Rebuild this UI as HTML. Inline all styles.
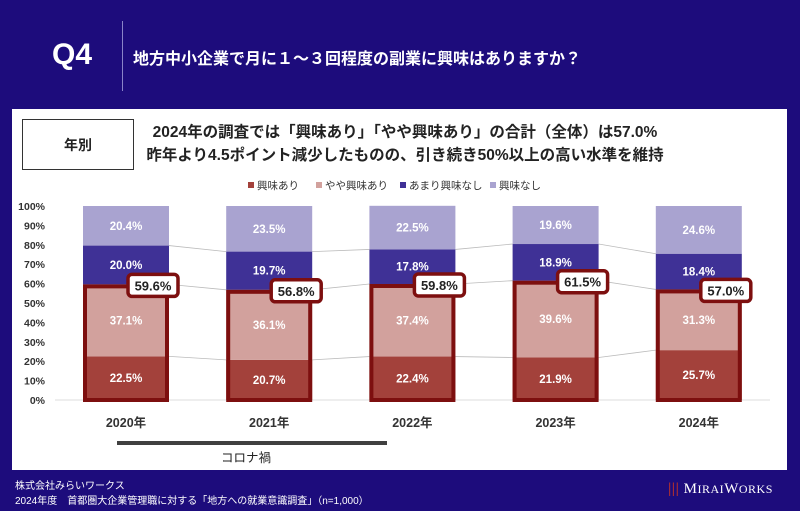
<!DOCTYPE html>
<html><head><meta charset="utf-8"><style>
body{margin:0;width:800px;height:511px;background:#1d0c7c;font-family:"Liberation Sans","Noto Sans CJK JP",sans-serif;overflow:hidden;position:relative}
.a{position:absolute}
</style></head><body>
<div class="a" style="left:52px;top:38px;color:#fff;font-size:30px;font-weight:bold">Q4</div>
<div class="a" style="left:122px;top:21px;width:1px;height:70px;background:#8a84c8"></div>
<div class="a" style="left:133px;top:45px;color:#fff;font-size:16px;font-weight:bold">地方中小企業で月に１～３回程度の副業に興味はありますか？</div>
<div class="a" style="left:12px;top:109px;width:775px;height:361px;background:#fff"></div>
<div class="a" style="left:22px;top:119px;width:110px;height:49px;border:1px solid #333;background:#fff;font-size:14px;font-weight:bold;display:flex;align-items:center;justify-content:center;color:#222">年別</div>
<div class="a" style="left:140px;top:121px;width:530px;text-align:center;font-size:15.5px;font-weight:bold;color:#222;line-height:23px">2024年の調査では「興味あり」「やや興味あり」の合計（全体）は57.0%<br>昨年より4.5ポイント減少したものの、引き続き50%以上の高い水準を維持</div>
<svg class="a" style="left:0;top:0" width="800" height="511" id="chart"></svg>
<div class="a" style="left:15px;top:477px;color:#fff;font-size:10px">株式会社みらいワークス</div>
<div class="a" style="left:15px;top:492px;color:#fff;font-size:10px">2024年度　首都圏大企業管理職に対する「地方への就業意識調査」（n=1,000）</div>
<div class="a" style="left:668px;top:481px;color:#fff;font-size:15px;font-family:'Liberation Serif',serif;letter-spacing:0.5px"><span style="color:#b03030;font-weight:bold">|||</span> M<span style="font-size:12px">IRAI</span>W<span style="font-size:12px">ORKS</span></div>
<script>
const years=["2020年","2021年","2022年","2023年","2024年"];
const s1=[22.5,20.7,22.4,21.9,25.7];
const s2=[37.1,36.1,37.4,39.6,31.3];
const s3=[20.0,19.7,17.8,18.9,18.4];
const s4=[20.4,23.5,22.5,19.6,24.6];
const totals=["59.6%","56.8%","59.8%","61.5%","57.0%"];
const names=["興味あり","やや興味あり","あまり興味なし","興味なし"];
const ticks=[0,10,20,30,40,50,60,70,80,90,100];
const colors=["#a3413b","#d2a19d","#3f3196","#a9a3d0"];
const NS="http://www.w3.org/2000/svg";
const svg=document.getElementById('chart');
const y0=400,y1=206,x0=126,dx=143.2,bw=86;
const Y=v=>y0-(v/100)*(y0-y1);
const X=i=>x0+i*dx;
function mk(t,a,p){const e=document.createElementNS(NS,t);for(const k in a)e.setAttribute(k,a[k]);(p||svg).appendChild(e);return e;}
ticks.forEach(t=>{const e=mk('text',{x:45,y:Y(t)+4,'text-anchor':'end','font-size':'10.5','font-weight':'bold',fill:'#333'});e.textContent=t+'%';

});
const ax=mk('line',{x1:55,x2:770,y1:y0,y2:y0,stroke:'#ddd'});


const series=[s1,s2,s3,s4];
// connectors
for(let i=0;i<years.length-1;i++){let c1=0,c2=0;for(let k=0;k<3;k++){c1+=series[k][i];c2+=series[k][i+1];
const l=mk('line',{x1:X(i)+bw/2,x2:X(i+1)-bw/2,y1:Y(c1),y2:Y(c2),stroke:'#bbb','stroke-width':0.8});

}}
years.forEach((yr,i)=>{let c=0;
series.forEach((s,k)=>{const v=s[i];const r=mk('rect',{x:X(i)-bw/2,y:Y(c+v),width:bw,height:Y(c)-Y(c+v),fill:colors[k]});


const t=mk('text',{x:X(i),y:(Y(c)+Y(c+v))/2+4,'text-anchor':'middle','font-size':'11.5','font-weight':'bold',fill:'#fff'});t.textContent=v.toFixed(1)+'%';


c+=v;});
const top=s1[i]+s2[i];
const o=mk('rect',{x:X(i)-bw/2+2,y:Y(top)+2,width:bw-4,height:y0-Y(top)-2,fill:'none',stroke:'#7d0f0f','stroke-width':4});


const b=mk('rect',{x:X(i)+2,y:Y(top)-10,width:50,height:22,rx:4,fill:'#fff',stroke:'#7d0f0f','stroke-width':3.5});


const bt=mk('text',{x:X(i)+27,y:Y(top)+6,'text-anchor':'middle','font-size':'13','font-weight':'bold',fill:'#222'});bt.textContent=totals[i];


const xl=mk('text',{x:X(i),y:427,'text-anchor':'middle','font-size':'12.5','font-weight':'bold',fill:'#333'});xl.textContent=yr;


});
// legend
const lx=[248,316,400,490];
names.forEach((n,k)=>{const r=mk('rect',{x:lx[k],y:182,width:6,height:6,fill:colors[k]});


const t=mk('text',{x:lx[k]+9,y:189,'font-size':'10.5',fill:'#333'});t.textContent=n;

});
const cb=mk('rect',{x:117,y:441,width:270,height:4,fill:'#404040'});


const ct=mk('text',{x:246,y:462,'text-anchor':'middle','font-size':'12.5',fill:'#222'});ct.textContent='コロナ禍';


</script>
</body></html>
